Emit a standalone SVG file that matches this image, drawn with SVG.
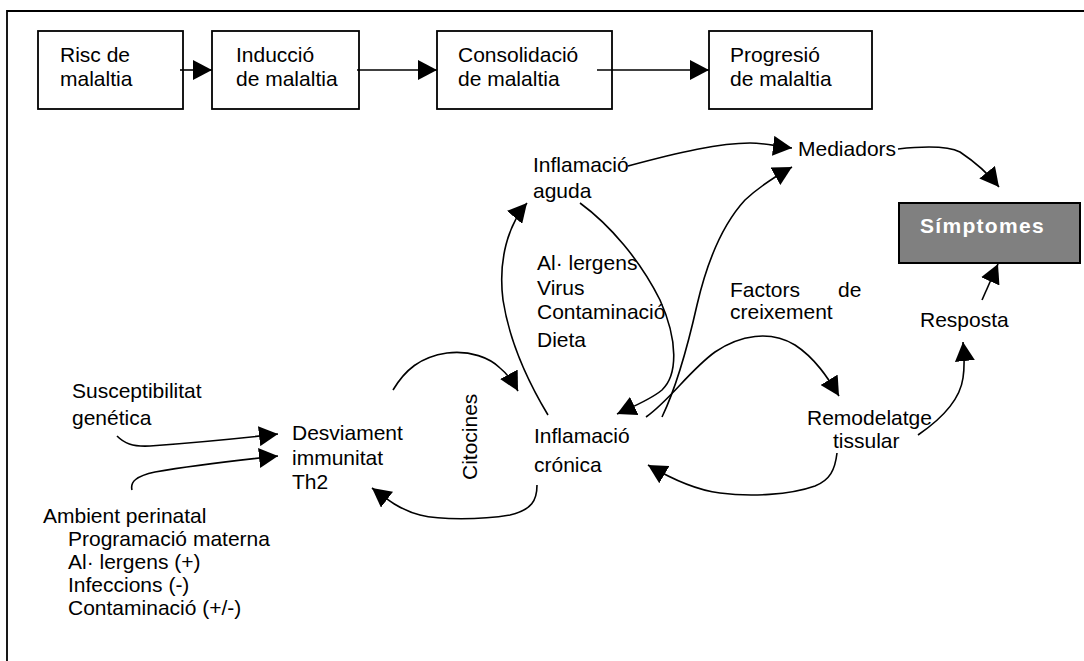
<svg xmlns="http://www.w3.org/2000/svg" width="1084" height="661" viewBox="0 0 1084 661">
<style>
text{font-family:"Liberation Sans",Arial,sans-serif;font-size:21px;fill:#000}
.box{fill:#fff;stroke:#000;stroke-width:1.8}
.c{fill:none;stroke:#000;stroke-width:1.6;marker-end:url(#ah)}
.sym{font-weight:bold;fill:#fff;letter-spacing:1.3px}
</style>
<defs>
<marker id="ah" markerUnits="userSpaceOnUse" markerWidth="20" markerHeight="20" refX="19" refY="10" orient="auto">
<path d="M0,0 L19,10 L0,20 z" fill="#000"/>
</marker>
</defs>
<rect x="0" y="0" width="1084" height="661" fill="#fff"/>
<path d="M7,661 L7,11 L1084,11" fill="none" stroke="#000" stroke-width="1.8"/>

<g id="risc"><rect class="box" x="38" y="31" width="145" height="78"/><text x="60" y="62">Risc de</text><text x="60" y="86">malaltia</text></g>
<g id="induccio"><rect class="box" x="212" y="31" width="147" height="78"/><text x="236" y="62">Inducció</text><text x="236" y="86">de malaltia</text></g>
<g id="consolidacio"><rect class="box" x="437" y="31" width="175" height="78"/><text x="458" y="62">Consolidació</text><text x="458" y="86">de malaltia</text></g>
<g id="progresio"><rect class="box" x="709" y="31" width="163" height="78"/><text x="730" y="62">Progresió</text><text x="730" y="86">de malaltia</text></g>

<g id="aguda"><text x="533" y="172">Inflamació</text><text x="533" y="198">aguda</text></g>
<g id="mediadors"><text x="798" y="156">Mediadors</text></g>
<g id="simptomes"><rect x="899" y="203" width="181" height="60" fill="#808080" stroke="#000" stroke-width="2"/><text class="sym" x="920" y="233">Símptomes</text></g>
<g id="factors-agudes"><text x="537" y="270">Al· lergens</text><text x="537" y="295">Virus</text><text x="537" y="319">Contaminació</text><text x="537" y="347">Dieta</text></g>
<g id="factors"><text x="730" y="297">Factors</text><text x="838" y="297">de</text><text x="730" y="319">creixement</text></g>
<g id="resposta"><text x="920" y="327">Resposta</text></g>
<g id="remodelatge"><text x="807" y="425">Remodelatge</text><text x="833" y="448">tissular</text></g>
<g id="cronica"><text x="534" y="443">Inflamació</text><text x="534" y="472">crónica</text></g>
<g id="citocines"><text transform="translate(477,480) rotate(-90)">Citocines</text></g>
<g id="desviament"><text x="292" y="440">Desviament</text><text x="292" y="465">immunitat</text><text x="292" y="489">Th2</text></g>
<g id="susceptibilitat"><text x="72" y="398">Susceptibilitat</text><text x="72" y="425">genética</text></g>
<g id="ambient"><text x="43" y="523">Ambient perinatal</text><text x="68" y="546">Programació materna</text><text x="68" y="569">Al· lergens (+)</text><text x="68" y="592">Infeccions (-)</text><text x="68" y="615">Contaminació (+/-)</text></g>

<g id="connectors">
<path class="c" d="M180,70 L212,70"/>
<path class="c" d="M357,70 L437,70"/>
<path class="c" d="M597,70 L709,70"/>
<path class="c" d="M628,166 C680,152 720,143 750,143 C765,143 775,146 792,148"/>
<path class="c" d="M662,417 C675,390 688,345 697,305 C707,262 722,225 745,200 C760,186 776,176 792,167"/>
<path class="c" d="M898,149 C925,146 948,146 960,152 C972,160 987,172 999,187"/>
<path class="c" d="M982,300 L998,264"/>
<path class="c" d="M918,435 C940,420 960,400 963,378 C965,365 964,352 963,342"/>
<path class="c" d="M646,417 C670,400 690,370 715,352 C740,335 770,330 795,345 C815,358 828,378 839,396"/>
<path class="c" d="M837,453 C835,470 830,480 815,486 C790,495 750,497 720,493 C695,490 670,478 648,465"/>
<path class="c" d="M580,203 C610,225 640,260 660,300 C678,340 678,375 662,390 C650,400 632,407 617,414"/>
<path class="c" d="M548,415 C530,385 510,345 503,300 C498,260 508,225 527,203"/>
<path class="c" d="M393,390 C405,370 420,357 447,353 C470,350 490,358 500,368 C505,372 512,380 518,391"/>
<path class="c" d="M537,485 C537,500 532,510 510,515 C480,520 440,520 420,515 C400,510 385,498 372,488"/>
<path class="c" d="M117,436 C124,443 132,447 150,446 C190,443 235,439 278,434"/>
<path class="c" d="M132,490 C130,482 136,476 155,472 C195,465 240,460 278,456"/>
</g>
</svg>
